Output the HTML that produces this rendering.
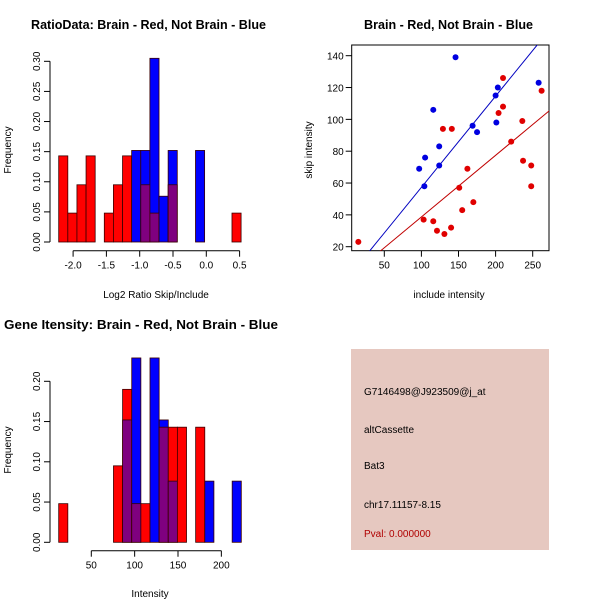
<!DOCTYPE html>
<html><head><meta charset="utf-8"><style>
body{margin:0;background:#fff}
svg{display:block;font-family:"Liberation Sans",sans-serif}
</style></head><body>
<svg id="s" width="600" height="600" viewBox="0 0 600 600">
<rect width="600" height="600" fill="#fff"/>
<text x="31" y="29" font-size="12.5" font-weight="bold" textLength="235" lengthAdjust="spacingAndGlyphs">RatioData: Brain - Red, Not Brain - Blue</text>
<text x="364" y="29" font-size="12.5" font-weight="bold" textLength="169" lengthAdjust="spacingAndGlyphs">Brain - Red, Not Brain - Blue</text>
<text x="4" y="329" font-size="12.5" font-weight="bold" textLength="274" lengthAdjust="spacingAndGlyphs">Gene Itensity: Brain - Red, Not Brain - Blue</text>
<text x="156" y="298" font-size="10" text-anchor="middle">Log2 Ratio Skip/Include</text>
<text x="11" y="150" font-size="10" text-anchor="middle" transform="rotate(-90 11 150)">Frequency</text>
<text x="449" y="298" font-size="10" text-anchor="middle">include intensity</text>
<text x="312" y="150" font-size="10" text-anchor="middle" transform="rotate(-90 312 150)">skip intensity</text>
<text x="150" y="597" font-size="10" text-anchor="middle">Intensity</text>
<text x="11" y="450" font-size="10" text-anchor="middle" transform="rotate(-90 11 450)">Frequency</text>
<g id="h1"></g>
<g id="sc"></g>
<g id="h2"></g>
<g>
<rect x="351" y="349" width="198" height="201" fill="#e6c8c0"/>
<text x="364" y="395" font-size="10">G7146498@J923509@j_at</text>
<text x="364" y="433" font-size="10">altCassette</text>
<text x="364" y="469" font-size="10">Bat3</text>
<text x="364" y="508" font-size="10">chr17.11157-8.15</text>
<text x="364" y="537" font-size="10" fill="#b00000">Pval: 0.000000</text>
</g>
</svg>
<script>
// Ratio histogram data (frequencies per bin)
const ratioRed = [0.143,0.048,0.095,0.143,0,0.048,0.095,0.143,0,0.095,0.048,0,0.095,0,0,0,0,0,0,0.048];
const ratioBlue = [0,0,0,0,0,0,0,0,0.152,0.152,0.305,0.076,0.152,0,0,0.152,0,0,0,0];
const ratioXTicks = [-2.0,-1.5,-1.0,-0.5,0.0,0.5];
const ratioYTicks = [0.00,0.05,0.10,0.15,0.20,0.25,0.30];
// Scatter data
const redX = [15,210,262,204,210,236,129,141,221,237,248,162,151,248,170,155,103,116,121,131,140];
const redY = [23,126,118,104,108,99,94,94,86,74,71,69,57,58,48,43,37,36,30,28,32];
const blueX = [146,116,258,203,200,201,169,175,124,105,97,124,104];
const blueY = [139,106,123,120,115,98,96,92,83,76,69,71,58];
const fitBlue = [0,0.573];
const fitRed = [0,0.387];
const scXTicks = [50,100,150,200,250];
const scYTicks = [20,40,60,80,100,120,140];
// Gene intensity histogram
const geneRed = [0.048,0,0,0,0,0,0.095,0.19,0.048,0.048,0,0.143,0.143,0.143,0,0.143,0,0,0,0];
const geneBlue = [0,0,0,0,0,0,0,0.152,0.229,0,0.229,0.152,0.076,0,0,0,0.076,0,0,0.076];
const geneXTicks = [50,100,150,200];
const geneYTicks = [0.00,0.05,0.10,0.15,0.20];

const NS='http://www.w3.org/2000/svg';
function mk(p,t,a){const e=document.createElementNS(NS,t);for(const k in a)e.setAttribute(k,a[k]);p.appendChild(e);return e;}

function hist(g,red,blue,x0px,bw,y0,ys,name){
  red.forEach((r,i)=>{
    const b=blue[i];const x=x0px+i*bw;
    const draw=(v,c,nm)=>{const e=mk(g,'rect',{x:x,y:y0-v*ys,width:bw,height:v*ys,fill:c,stroke:'#3a0000','stroke-width':0.8});
      
      };
    const hi=Math.max(r,b),lo=Math.min(r,b);
    if(hi>0)draw(hi,r>=b?'#ff0000':'#0000ff',name+'-bar-'+i);
    if(lo>0)draw(lo,'#7f007f',name+'-overlap-'+i);
  });
}
function yaxis(g,ticks,x,y0,ys,fmt){
  mk(g,'line',{x1:x,x2:x,y1:y0-ticks[0]*ys,y2:y0-ticks[ticks.length-1]*ys,stroke:'#000'});
  ticks.forEach(t=>{const y=y0-t*ys;mk(g,'line',{x1:x,x2:x-6,y1:y,y2:y,stroke:'#000'});
    const tx=mk(g,'text',{x:x-10,y:y,'font-size':10,'text-anchor':'middle',transform:`rotate(-90 ${x-10} ${y})`});
    
    
    tx.textContent=fmt(t);});
}
function xaxis(g,ticks,xf,y,fmt){
  mk(g,'line',{x1:xf(ticks[0]),x2:xf(ticks[ticks.length-1]),y1:y,y2:y,stroke:'#000'});
  ticks.forEach(t=>{const x=xf(t);mk(g,'line',{x1:x,x2:x,y1:y,y2:y+6,stroke:'#000'});
    const tx=mk(g,'text',{x:x,y:y+18,'font-size':10,'text-anchor':'middle'});
    
    
    tx.textContent=fmt(t);});
}
// Histogram 1
{const g=document.getElementById('h1');const y0=242,ys=602.3;
 const xf=v=>139.7+(v+1)*66.6;
 hist(g,ratioRed,ratioBlue,58.7,9.12,y0,ys,'ratio');
 yaxis(g,ratioYTicks,50,y0,ys,t=>t.toFixed(2));
 xaxis(g,ratioXTicks,xf,250.7,t=>t.toFixed(1));}
// Histogram 2
{const g=document.getElementById('h2');const y0=542.3,ys=805;
 const xf=v=>91.3+(v-50)*0.867;
 hist(g,geneRed,geneBlue,58.7,9.13,y0,ys,'gene');
 yaxis(g,geneYTicks,50,y0,ys,t=>t.toFixed(2));
 xaxis(g,geneXTicks,xf,550.7,t=>String(t));}
// Scatter
{const g=document.getElementById('sc');
 const xf=v=>384.3+(v-50)*0.742, yf=v=>246.7-(v-20)*1.5917;
 const L=351.7,R=549,T=45,B=250.7;
 mk(g,'rect',{x:L,y:T,width:R-L,height:B-T,fill:'none',stroke:'#000'});
 scYTicks.forEach(t=>{const y=yf(t);mk(g,'line',{x1:L,x2:L-6,y1:y,y2:y,stroke:'#000'});
   const tx=mk(g,'text',{x:L-8,y:y+4,'font-size':10,'text-anchor':'end'});
   
   
   tx.textContent=t;});
 scXTicks.forEach(t=>{const x=xf(t);mk(g,'line',{x1:x,x2:x,y1:B,y2:B+6,stroke:'#000'});
   const tx=mk(g,'text',{x:x,y:B+18,'font-size':10,'text-anchor':'middle'});
   
   
   tx.textContent=t;});
 const cp=mk(g,'clipPath',{id:'cp'});mk(cp,'rect',{x:L,y:T,width:R-L,height:B-T});
 const line=(f,c,nm)=>{const x1=-50,x2=400;const l=mk(g,'line',{x1:xf(x1),y1:yf(f[0]+f[1]*x1),x2:xf(x2),y2:yf(f[0]+f[1]*x2),stroke:c,'clip-path':'url(#cp)'});
   
   };
 line(fitBlue,'#0000c0','blue-fit-line');line(fitRed,'#c00000','red-fit-line');
 redX.forEach((x,i)=>{const c=mk(g,'circle',{cx:xf(x),cy:yf(redY[i]),r:3,fill:'#e00000'});
   
   });
 blueX.forEach((x,i)=>{const c=mk(g,'circle',{cx:xf(x),cy:yf(blueY[i]),r:3,fill:'#0000e0'});
   
   });
}
</script>
</body></html>
